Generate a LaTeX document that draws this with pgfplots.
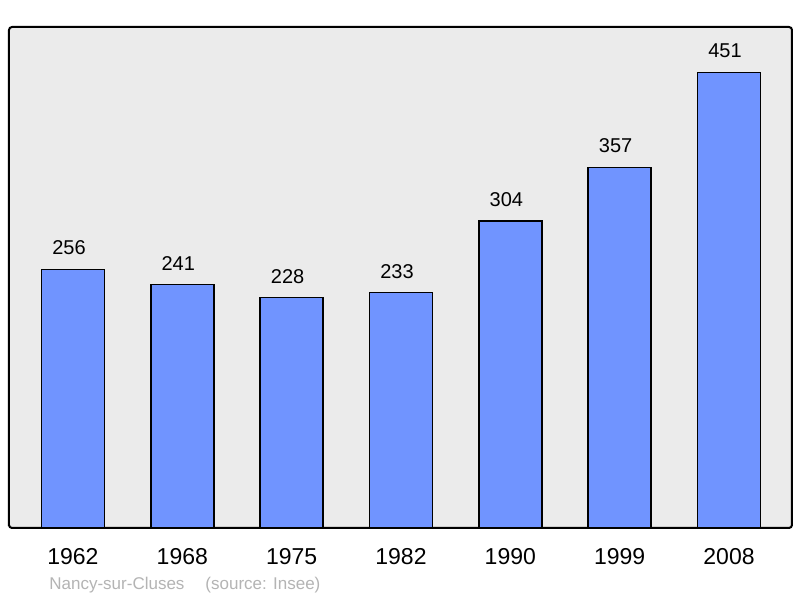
\documentclass[border=0pt]{standalone}
\usepackage{fontspec}
\setmainfont{Liberation Sans}
\usepackage{pgfplots}
\pgfplotsset{compat=1.18}
\definecolor{barblue}{HTML}{7094FF}
\definecolor{plotbg}{HTML}{EBEBEB}
\definecolor{footgray}{HTML}{B4B4B4}
\begin{document}
\begin{tikzpicture}
\path[fill=white] (0,0) rectangle (400pt,299pt);
\begin{axis}[
    at={(4.5pt,35pt)}, anchor=south west,
    scale only axis,
    width=391.5pt, height=250.5pt,
    xmin=-0.585, xmax=6.576,
    ymin=0, ymax=496,
    /pgf/number format/assume math mode=true,
    axis background/.style={fill=plotbg},
    axis line style={line width=1pt, rounded corners=1.5pt},
    xtick={0,...,6},
    xticklabels={1962,1968,1975,1982,1990,1999,2008},
    xticklabel style={font=\fontsize{11.5}{13}\selectfont, yshift=-6.5pt},
    ytick=\empty,
    major tick length=0pt,
    ybar,
    bar width=31.5pt,
    nodes near coords,
    nodes near coords style={font=\fontsize{10}{12}\selectfont, yshift=3.5pt, xshift=-2pt},
]
\addplot[draw=black, line width=0.7pt, fill=barblue] coordinates {
    (0,256) (1,241) (2,228) (3,233) (4,304) (5,357) (6,451)
};
\end{axis}
\node[anchor=base west, text=footgray, inner sep=0pt, font=\fontsize{8.5}{10}\selectfont]
    at (24.5pt,4pt) {Nancy-sur-Cluses\hspace{10.5pt}(source: Insee)};
\end{tikzpicture}
\end{document}
